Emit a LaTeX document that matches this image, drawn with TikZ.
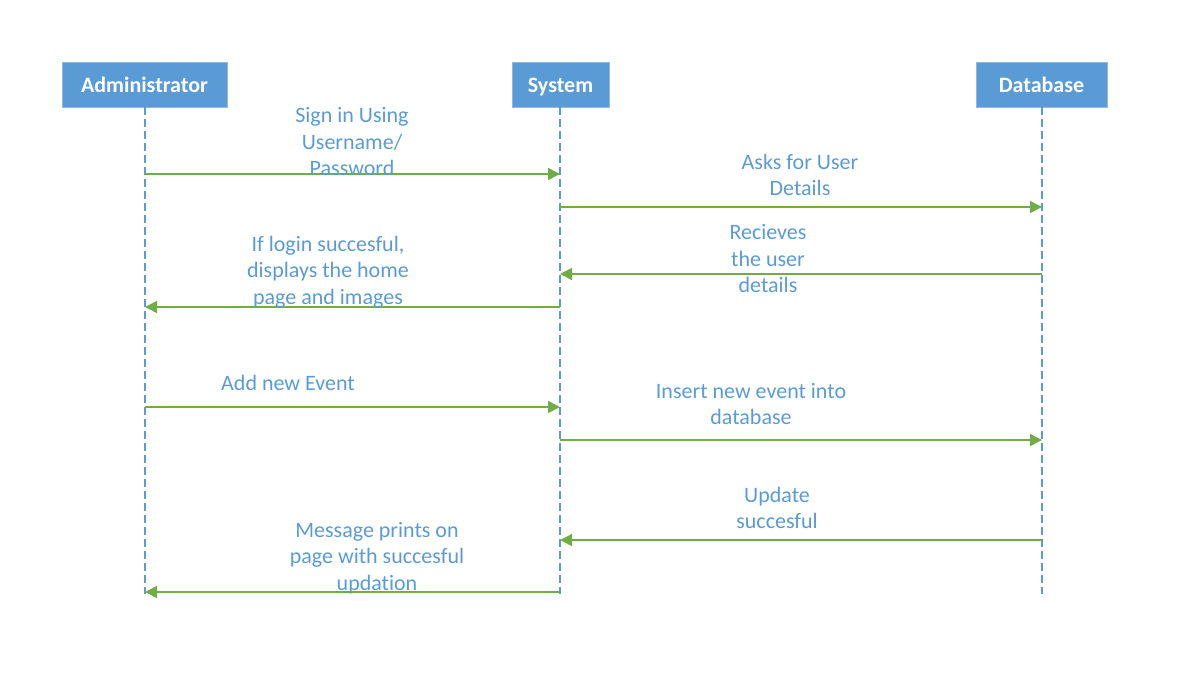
\documentclass[tikz,border=0pt]{standalone}
\usepackage{fontspec}
\setmainfont[Ligatures=NoCommon]{Carlito}
\usetikzlibrary{arrows.meta}
\definecolor{hdrblue}{HTML}{5B9BD5}
\definecolor{msggreen}{HTML}{70AD47}
\tikzset{
  actor/.style={fill=hdrblue, draw=hdrblue!70!white, line width=0.6pt, text=white, inner sep=0pt,
    font=\fontsize{22}{26}\selectfont\bfseries, minimum height=45pt, text height=16pt, text depth=1pt},
  lifeline/.style={draw=hdrblue, line width=1.3pt, dash pattern=on 8pt off 4pt},
  msg/.style={draw=msggreen, line width=1.5pt, -{Triangle[length=12pt,width=12pt]}},
  lbl/.style={text=hdrblue, align=center, inner sep=0pt, font=\fontsize{22}{26.5}\selectfont}
}
\begin{document}
\begin{tikzpicture}[x=1pt,y=-1pt]
\useasboundingbox (0,0) rectangle (1190,686);
% actors
\node[actor, minimum width=165pt] (adm) at (144.5,84.5) {Administrator};
\node[actor, minimum width=97pt] (sys) at (560.5,84.5) {System};
\node[actor, minimum width=131pt] (db) at (1041.5,84.5) {Database};
% lifeline ends
\coordinate (admE) at (145,594);
\coordinate (sysE) at (560,594);
\coordinate (dbE) at (1042,594);
\draw[lifeline] (adm.south -| admE) -- (admE);
\draw[lifeline] (sys.south -| sysE) -- (sysE);
\draw[lifeline] (db.south -| dbE) -- (dbE);
% message points
\coordinate (a1) at (145,174); \coordinate (s1) at (560,174);
\coordinate (s2) at (560,207); \coordinate (d2) at (1042,207);
\coordinate (d3) at (1042,274); \coordinate (s3) at (560,274);
\coordinate (s4) at (560,307); \coordinate (a4) at (145,307);
\coordinate (a5) at (145,407); \coordinate (s5) at (560,407);
\coordinate (s6) at (560,440); \coordinate (d6) at (1042,440);
\coordinate (d7) at (1042,540); \coordinate (s7) at (560,540);
\coordinate (s8) at (560,592); \coordinate (a8) at (145,592);
\draw[msg] (a1) -- (s1);
\draw[msg] (s2) -- (d2);
\draw[msg] (d3) -- (s3);
\draw[msg] (s4) -- (a4);
\draw[msg] (a5) -- (s5);
\draw[msg] (s6) -- (d6);
\draw[msg] (d7) -- (s7);
\draw[msg] (s8) -- (a8);
% labels
\node[lbl] (l1) at (352,142) {Sign in Using\\Username/\\Password};
\node[lbl] (l2) at (800,175) {Asks for User\\Details};
\node[lbl] (l3) at (768,259) {Recieves\\the user\\details};
\node[lbl] (l4) at (328,272) {If login succesful,\\displays the home\\page and images};
\node[lbl] (l5) at (288,383) {Add new Event};
\node[lbl] (l6) at (751,404) {Insert new event into\\database};
\node[lbl] (l7) at (777,508) {Update\\succesful};
\node[lbl] (l8) at (377,558) {Message prints on\\page with succesful\\updation};
\end{tikzpicture}
\end{document}
